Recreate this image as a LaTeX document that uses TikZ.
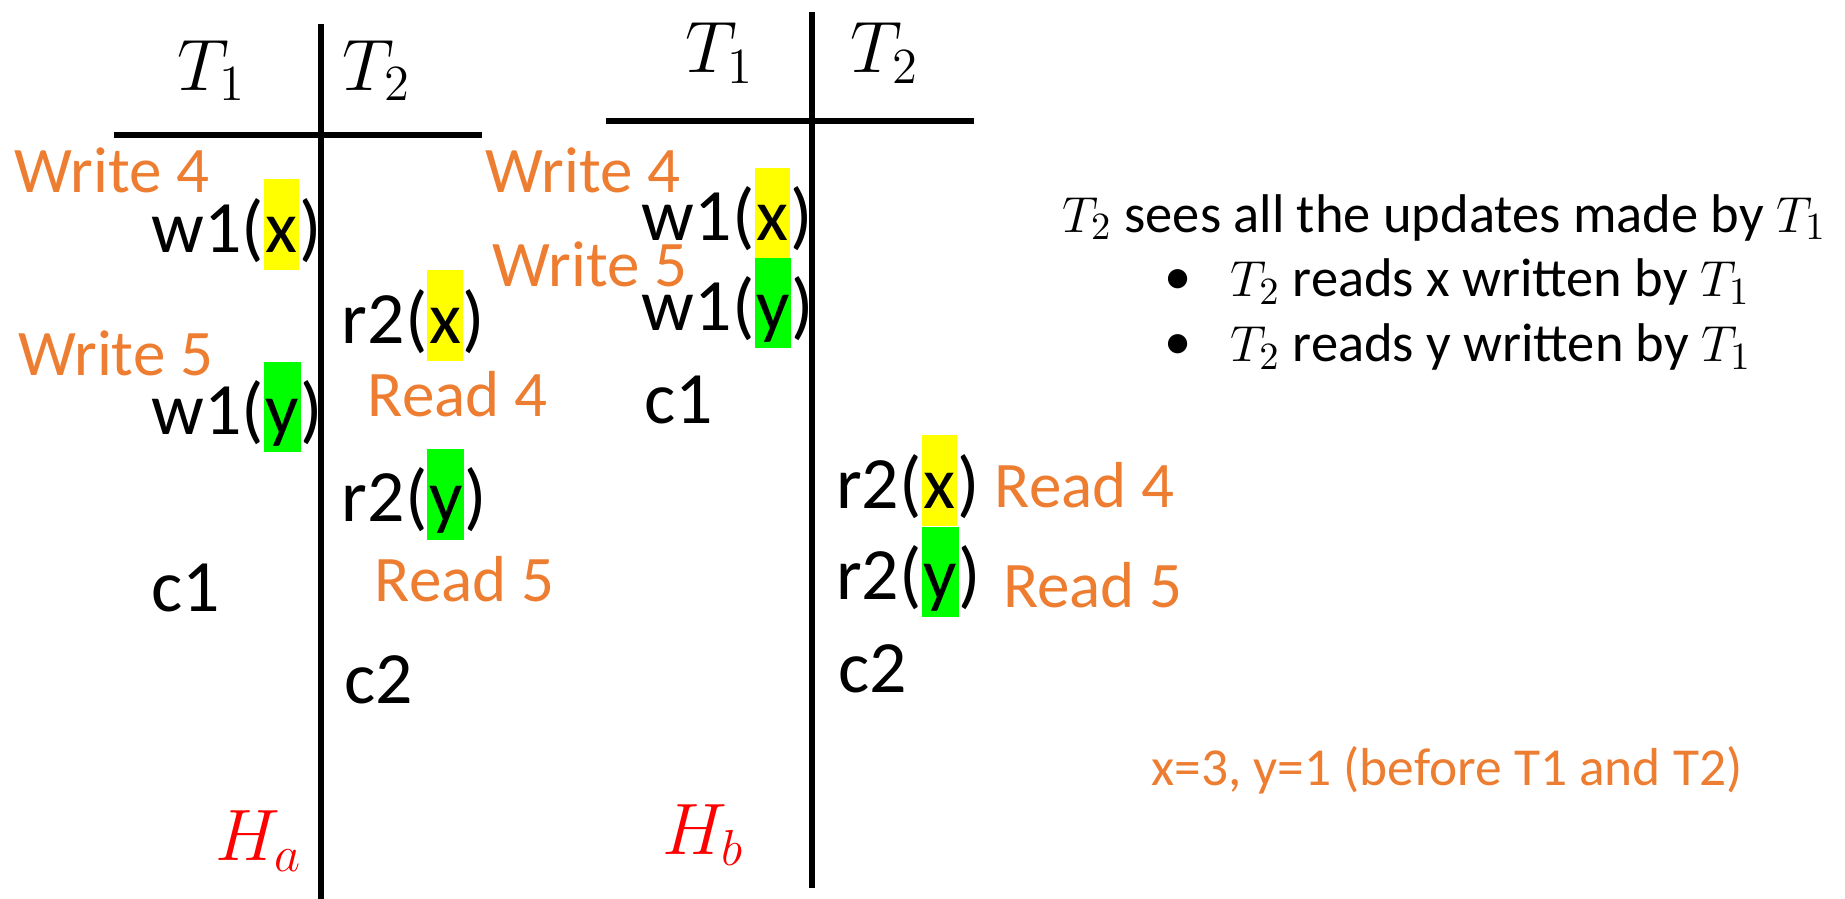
\documentclass[tikz,border=0pt]{standalone}
\usepackage{fontspec}
\setmainfont{Carlito}
\usepackage{tikz}
\usetikzlibrary{positioning}
\definecolor{colNota}{HTML}{ED7D31}
\definecolor{colMarcaX}{HTML}{FFFF00}
\definecolor{colMarcaY}{HTML}{00FF00}
\definecolor{colHistoria}{HTML}{FF0000}
\newcommand{\marca}[2]{{\setlength{\fboxsep}{0pt}\colorbox{#1}{\rule[-5pt]{0pt}{25.8pt}\kern0.5pt#2\kern0.5pt}}}

\begin{document}
\begin{tikzpicture}[x=0.011767cm, y=-0.011767cm,
    op/.style={anchor=west, inner sep=0pt, font=\fontsize{21}{25}\selectfont},
    nota/.style={anchor=west, inner sep=0pt, text=colNota, font=\fontsize{18.5}{22}\selectfont},
    cab/.style={inner sep=0pt, font=\fontsize{21}{25}\selectfont},
    hist/.style={inner sep=0pt, text=colHistoria, font=\fontsize{22}{26}\selectfont},
    texto/.style={anchor=west, inner sep=0pt, font=\fontsize{15.5}{18}\selectfont},
    regla/.style={line width=1.8pt}]
    \useasboundingbox (0,0) rectangle (1568,764);

    % Historia H_a
    \draw[regla] (273,20) -- (273,764);
    \draw[regla] (97,115) -- (410,115);
    \node[cab] (a-t1) at (180,60) {$T_1$};
    \node[cab] (a-t2) at (320,60) {$T_2$};
    \node[nota] (a-w4) at (12,145) {Write 4};
    \node[op] (a-w1x) at (128,191) {w1(\marca{colMarcaX}{x})};
    \node[nota] (a-w5) at (15,300) {Write 5};
    \node[op] (a-w1y) at (128,346) {w1(\marca{colMarcaY}{y})};
    \node[op] (a-r2x) at (290,268) {r2(\marca{colMarcaX}{x})};
    \node[nota] (a-r4) at (312,335) {Read 4};
    \node[op] (a-r2y) at (290,420) {r2(\marca{colMarcaY}{y})};
    \node[nota] (a-r5) at (318,492) {Read 5};
    \node[op] (a-c1) at (128,500) {c1};
    \node[op] (a-c2) at (292,578) {c2};
    \node[hist] (a-h) at (220,715) {$H_a$};

    % Historia H_b
    \draw[regla] (690,10) -- (690,755);
    \draw[regla] (515,103) -- (828,103);
    \node[cab] (b-t1) at (612,45) {$T_1$};
    \node[cab] (b-t2) at (752,45) {$T_2$};
    \node[nota] (b-w4) at (412,145) {Write 4};
    \node[op] (b-w1x) at (545,181) {w1(\marca{colMarcaX}{x})};
    \node[nota] (b-w5) at (418,225) {Write 5};
    \node[op] (b-w1y) at (545,257.5) {w1(\marca{colMarcaY}{y})};
    \node[op] (b-c1) at (547,340) {c1};
    \node[op] (b-r2x) at (710,408.5) {r2(\marca{colMarcaX}{x})};
    \node[nota] (b-r4) at (845,412) {Read 4};
    \node[op] (b-r2y) at (710,486) {r2(\marca{colMarcaY}{y})};
    \node[nota] (b-r5) at (852,497) {Read 5};
    \node[op] (b-c2) at (712,568) {c2};
    \node[hist] (b-h) at (598,710) {$H_b$};

    % Comentario
    \node[texto] (linea1) at (902,185) {$T_2$ sees all the updates made by $T_1$};
    \node[texto] (punto1) at (989,240) {\textbullet};
    \node[texto] (linea2) at (1045,240) {$T_2$ reads x written by $T_1$};
    \node[texto] (punto2) at (989,295) {\textbullet};
    \node[texto] (linea3) at (1045,295) {$T_2$ reads y written by $T_1$};
    \node[texto, text=colNota, font=\fontsize{15.2}{18}\selectfont] (inicial) at (978,655) {x=3, y=1 (before T1 and T2)};
\end{tikzpicture}
\end{document}
